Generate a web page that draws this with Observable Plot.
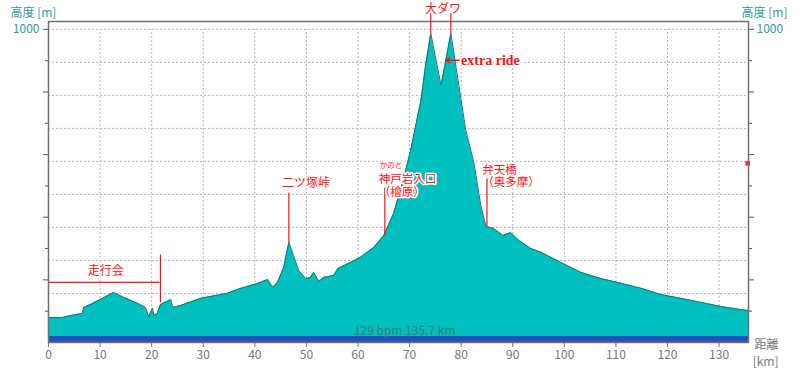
<!DOCTYPE html>
<html>
<head>
<meta charset="utf-8">
<script src="https://cdn.jsdelivr.net/npm/d3@7"></script>
<script src="https://cdn.jsdelivr.net/npm/@observablehq/plot@0.6"></script>
<style>
  html, body { margin: 0; padding: 0; background: #fff; }
  #chart svg { display: block; }
</style>
</head>
<body>
<div id="chart"></div>
<script>
// ---- data ----
const distanceKm = [0, 2.7, 4.3, 6.6, 6.8, 8.1, 10.5, 12.6, 14.6, 17.3, 18.8, 19.4, 20.2, 20.4, 21.1, 21.7, 23.7, 24.1, 25.6, 29.5, 34.7, 37.3, 40.6, 42.5, 43.5, 44.4, 45.6, 46.6, 47.5, 48.5, 49.9, 50.8, 51.4, 52.4, 53.4, 55.3, 56.1, 58.6, 60.5, 63.1, 65.0, 66.9, 68.9, 70.2, 71.2, 72.2, 73.1, 74.1, 76.1, 78.0, 79.9, 80.9, 82.5, 83.8, 84.8, 86.3, 88.1, 89.6, 91.2, 93.5, 95.5, 99.3, 103.2, 107.1, 111.0, 114.9, 118.7, 122.6, 126.5, 130.4, 134.2, 135.7];
const altitudeM = [80, 80, 86, 93, 112, 121, 141, 160, 144, 125, 112, 83, 109, 86, 93, 121, 137, 112, 118, 141, 157, 173, 189, 201, 176, 192, 240, 320, 278, 230, 204, 208, 224, 195, 208, 214, 236, 256, 272, 304, 342, 412, 527, 613, 693, 773, 885, 987, 821, 987, 783, 677, 572, 438, 371, 364, 342, 351, 326, 300, 288, 256, 224, 204, 189, 173, 153, 141, 128, 115, 105, 102];

const xTicks = [0, 10, 20, 30, 40, 50, 60, 70, 80, 90, 100, 110, 120, 130];
const yMajorTicks = [1000, 800, 600, 400, 200];
const yMinorTicks = [900, 700, 500, 300, 100];
const yLabelTicks = [1000];
const hrGridM = [1000, 894.6, 789.1, 683.7, 578.3, 472.8, 367.4, 262.0, 156.5, 51.1];
const totalKm = 135.7;
const bandTopM = 19;
const bandLabel = "129 bpm 135.7 km";
const hrMarkerM = 572;

// annotations: labels and their leader lines (km, metres)
const centeredLabels = [
  {text: "大ダワ", km: 76.5, m: 1064, size: 12},
  {text: "二ツ塚峠", km: 49.9, m: 508, size: 12},
  {text: "かのと", km: 66.4, m: 565, size: 7.5},
  {text: "走行会", km: 11.1, m: 227, size: 12}
];
const blockLabels = [
  {text: "神戸岩入口\n（檜原）", km: 64.0, m: 501, size: 11.5},
  {text: "弁天橋\n（奥多摩）", km: 84.1, m: 530, size: 11.5}
];
const leaders = [
  {km1: 74.1, m1: 987, km2: 74.1, m2: 1051},
  {km1: 78.0, m1: 987, km2: 78.0, m2: 1051},
  {km1: 46.6, m1: 320, km2: 46.6, m2: 479},
  {km1: 65.2, m1: 342, km2: 65.2, m2: 495},
  {km1: 85.0, m1: 371, km2: 85.0, m2: 524},
  {km1: 0, m1: 192, km2: 21.5, m2: 192},
  {km1: 21.7, m1: 128, km2: 21.7, m2: 281}
];
const extraRide = {text: "extra ride", km1: 79.6, km2: 77.0, m: 901};

const profile = distanceKm.map((d, i) => ({km: d, m: altitudeM[i]}));

const cjk = "'Noto Sans CJK JP', 'Noto Sans', sans-serif";
const teal = "#2a9d9d";
const red = "#ff1010";

const chart = Plot.plot({
  width: 800,
  height: 368,
  marginLeft: 48,
  marginRight: 52,
  marginTop: 21,
  marginBottom: 26,
  style: {fontFamily: cjk, fontSize: "12px", background: "#fff", overflow: "visible"},
  x: {domain: [0, totalKm]},
  y: {domain: [0, 1025]},
  marks: [
    // grid
    Plot.ruleY(hrGridM, {stroke: "#b4b4b4", strokeDasharray: "2,2"}),
    Plot.ruleX(xTicks.filter(d => d > 0), {y1: 0, y2: 1000, stroke: "#b4b4b4", strokeDasharray: "2,2"}),
    // profile
    Plot.areaY(profile, {x: "km", y: "m", fill: "#00bfbf"}),
    Plot.lineY(profile, {x: "km", y: "m", stroke: "#1b7474", strokeWidth: 1}),
    // heart-rate band
    Plot.rectY([{a: 0, b: totalKm}], {x1: "a", x2: "b", y1: 0, y2: bandTopM, fill: "#2450be"}),
    Plot.text([bandLabel], {x: 59.2, y: 35, textAnchor: "start", fill: "#3d7d7d", fontSize: 12}),
    Plot.dot([hrMarkerM], {x: totalKm - 0.15, y: d => d, symbol: "square", r: 2.6, fill: "#ff2a2a"}),
    // frame
    Plot.frame({stroke: "#707070", strokeWidth: 1.5}),
    // axes
    Plot.axisX(xTicks, {anchor: "bottom", tickSize: 5, tickPadding: 3, color: "#777", fontSize: 12, label: null}),
    Plot.axisY(yMajorTicks, {anchor: "left", tickSize: 5, tickFormat: () => "", stroke: "#555", label: null}),
    Plot.axisY(yMinorTicks, {anchor: "left", tickSize: 3, tickFormat: () => "", stroke: "#555", label: null}),
    Plot.axisY(yMajorTicks, {anchor: "right", tickSize: 5, tickFormat: () => "", stroke: "#555", label: null}),
    Plot.axisY(yMinorTicks, {anchor: "right", tickSize: 3, tickFormat: () => "", stroke: "#555", label: null}),
    Plot.axisY(yLabelTicks, {anchor: "left", tickSize: 0, tickPadding: 9, tickFormat: d => String(d), color: teal, fontSize: 12, label: null}),
    Plot.axisY(yLabelTicks, {anchor: "right", tickSize: 0, tickPadding: 8, tickFormat: d => String(d), color: teal, fontSize: 12, label: null}),
    Plot.text(["高度 [m]"], {frameAnchor: "top-left", lineAnchor: "middle", dx: -38, dy: -8, textAnchor: "start", fill: teal, fontSize: 12}),
    Plot.text(["高度 [m]"], {frameAnchor: "top-right", lineAnchor: "middle", dx: 39, dy: -8, textAnchor: "end", fill: teal, fontSize: 12}),
    Plot.text(["距離"], {frameAnchor: "bottom-right", lineAnchor: "middle", dx: 30, dy: 3, fill: "#777", fontSize: 12}),
    Plot.text(["[km]"], {frameAnchor: "bottom-right", lineAnchor: "middle", dx: 30, dy: 20, fill: "#777", fontSize: 12}),
    // annotations
    Plot.link(leaders, {x1: "km1", y1: "m1", x2: "km2", y2: "m2", stroke: red, strokeWidth: 1.2}),
    Plot.arrow([extraRide], {x1: "km1", y1: "m", x2: "km2", y2: "m", stroke: red, strokeWidth: 1.5, headLength: 7, bend: 0}),
    Plot.text([extraRide], {x: "km1", y: "m", text: "text", dx: 2, textAnchor: "start", fill: red, stroke: "#fff", strokeWidth: 3, paintOrder: "stroke", fontFamily: "'Liberation Serif', serif", fontWeight: "bold", fontSize: 14}),
    Plot.text(centeredLabels, {x: "km", y: "m", text: "text", fill: red, stroke: "#fff", strokeWidth: 3, paintOrder: "stroke", fontSize: d => d.size}),
    Plot.text(blockLabels, {x: "km", y: "m", text: "text", textAnchor: "start", lineHeight: 1.05, fill: red, stroke: "#fff", strokeWidth: 3, paintOrder: "stroke", fontSize: 11.5})
  ]
});
document.getElementById("chart").appendChild(chart);
</script>
</body>
</html>
